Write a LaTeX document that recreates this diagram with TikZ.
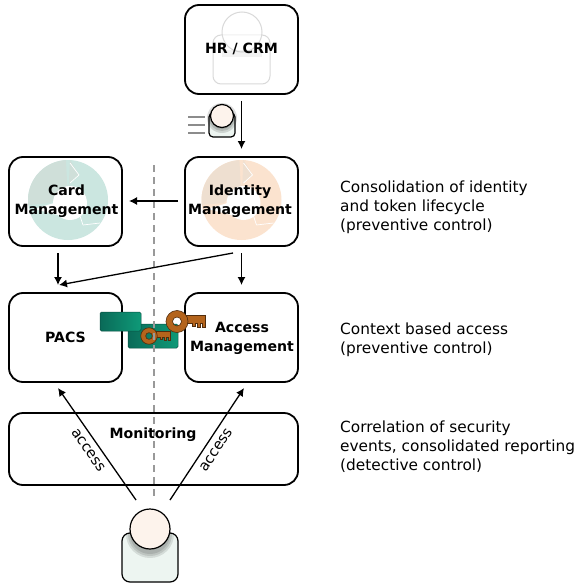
\documentclass[tikz,border=0pt]{standalone}
\usepackage{fontspec}
\setmainfont{DejaVu Sans}
\usetikzlibrary{arrows.meta}
\definecolor{greenl}{HTML}{0E9A78}
\definecolor{greend}{HTML}{0A6A58}
\definecolor{orangekey}{HTML}{B4641C}
\definecolor{headfill}{HTML}{FDF3EC}
\definecolor{bodyfill}{HTML}{EDF5F1}
\definecolor{cyclegreen}{HTML}{CBE6E0}
\definecolor{cyclegreend}{HTML}{CFDFD9}
\definecolor{cycleorange}{HTML}{FBE3CF}
\definecolor{cycleoranged}{HTML}{EEDFD0}
\tikzset{
 x=1pt,y=-1pt,
 boxnode/.style={draw=black,line width=1.8pt,rounded corners=14pt,inner sep=0pt},
 lbl/.style={font=\bfseries\fontsize{14.1}{19}\selectfont,align=center,text=black,inner sep=0pt},
 note/.style={font=\fontsize{15.35}{19}\selectfont,align=left,anchor=north west,inner sep=0pt,text=black},
 arr/.style={line width=1.3pt,-{Latex[length=8pt,width=8pt]}},
 arrlabel/.style={sloped,pos=.5,below=5pt,font=\fontsize{14.5}{16}\selectfont,inner sep=1pt},
 ghost/.style={draw=black!15,line width=1pt,fill=white,fill opacity=.6},
 person/.style={draw=black,line width=1.2pt},
 keyshape/.style={fill=orangekey,draw=black!55!orangekey,line width=.6pt},
 greenrect/.style={left color=greend,right color=greenl,draw=black!25!greend,line width=.5pt,rounded corners=1.5pt},
}
\newcommand{\cyc}[4]{%
  \begin{scope}[shift={(#1,#2)}]
    \fill[#3] (0,0) circle (40);
    \fill[#4] (0,0) -- (2,-40) -- (11,-25) -- (2,-17) -- (-18,3) -- (-39.7,5) arc (173:267:40) -- cycle;
    \fill[white] (2,3) circle (17);
    \fill[white] (-34,9) -- (-14,3) -- (-10,15) -- cycle;
    \draw[white,line width=.7pt] (2,-37) -- (11,-25) -- (2,-17);
    \draw[white,line width=.7pt] (15,25) -- (32,23);
    \draw[white,line width=.7pt] (15,25) -- (10,10);
  \end{scope}}
\newcommand{\keyat}[3]{%
  \begin{scope}[shift={(#1,#2)},scale=#3]
    \path[keyshape] (9,-6) -- (28,-6) -- (28,5.5) -- (25.5,5.5) -- (25.5,1.5) -- (23,1.5) -- (23,5.5) -- (20.5,5.5) -- (20.5,1.5) -- (18,1.5) -- (18,5) -- (15.5,5) -- (15.5,1.5) -- (9,1.5) -- cycle;
    \path[keyshape,even odd rule] (0,0) circle (11) (0,0) circle (4.5);
  \end{scope}}
\begin{document}
\begin{tikzpicture}
\useasboundingbox (0,0) rectangle (577,583);
\fill[white] (0,0) rectangle (577,583);
% ghost person in HR
\draw[ghost,rounded corners=8pt] (213,60) -- (213,84) -- (270,84) -- (270,35) -- (213,35) -- cycle;
\draw[ghost] (242,32) circle (20);
\fill[black,opacity=.05] (222,50) rectangle (262,57);
% cycles
\cyc{68}{200}{cyclegreen}{cyclegreend}
\cyc{241.5}{200}{cycleorange}{cycleoranged}
% dashed divider
\coordinate (dtop) at (154,165);
\coordinate (dbot) at (154,500);
% boxes
\node[boxnode,minimum width=113pt,minimum height=89pt] (hr) at (241.5,49.5) {};
\node[boxnode,minimum width=113pt,minimum height=89pt] (card) at (65.5,201.5) {};
\node[boxnode,minimum width=113pt,minimum height=89pt] (idm) at (241.5,201.5) {};
\node[boxnode,minimum width=113pt,minimum height=89pt] (pacs) at (65.5,337.5) {};
\node[boxnode,minimum width=113pt,minimum height=89pt] (acm) at (241.5,337.5) {};
\node[boxnode,minimum width=289pt,minimum height=72pt] (mon) at (153.5,449) {};
% green tokens and keys
\draw[greenrect] (128,324) rectangle (178,348);
\draw[greenrect] (100,312) rectangle (141,331);
\keyat{149}{336}{.75}
\keyat{177}{321.5}{1}
\draw[black!40,line width=1.3pt,dash pattern=on 7pt off 5pt] (dtop) -- (dbot);
% labels
\node[lbl] (hrt) at (241.5,48.5) {HR / CRM};
\node[lbl] (cardt) at (66.5,201) {Card\\Management};
\node[lbl] (idmt) at (240,201) {Identity\\Management};
\node[lbl] (pacst) at (65.5,337) {PACS};
\node[lbl] (acmt) at (242,338) {Access\\Management};
\node[lbl] (mont) at (153,435) {Monitoring};
\node[note] (n1) at (340,181) {Consolidation of identity\\and token lifecycle\\(preventive control)};
\node[note] (n2) at (340,323) {Context based access\\(preventive control)};
\node[note] (n3) at (340,421) {Correlation of security\\events, consolidated reporting\\(detective control)};
% small person
\foreach \yy in {117,125,133}{\draw[black!45,line width=1.5pt] (188,\yy) -- (205,\yy);}
\draw[person,fill=bodyfill,rounded corners=4pt] (209,113) rectangle (235,137);
\foreach \rr in {11,13,15}{\fill[black,opacity=.13] (222,118) circle [radius=\rr];}
\draw[person,fill=headfill] (222,116) circle (11.5);
% large person
\coordinate (ul) at (136,500);
\coordinate (ur) at (170,500);
\draw[person,fill=bodyfill,rounded corners=8pt] (122,533) rectangle (178,582);
\begin{scope}
\clip[rounded corners=8pt] (122,533) rectangle (178,582);
\foreach \rr in {20,22,24}{\fill[black,opacity=.1] (150,534) circle [radius=\rr];}
\end{scope}
\draw[person,fill=headfill] (150,529) circle (20);
% connectors
\coordinate (a1) at (241.5,101);
\coordinate (a2) at (241.5,149);
\draw[arr] (a1) -- (a2);
\coordinate (b1) at (178,201);
\coordinate (b2) at (129,201);
\draw[arr] (b1) -- (b2);
\coordinate (c1) at (58,253);
\coordinate (c2) at (58,285);
\draw[arr] (c1) -- (c2);
\coordinate (d1) at (233,253);
\coordinate (d2) at (59,285);
\draw[arr] (d1) -- (d2);
\coordinate (e1) at (241.5,253);
\coordinate (e2) at (241.5,285);
\draw[arr] (e1) -- (e2);
\draw[arr] (ul) -- node[arrlabel] {access} (58,388);
\draw[arr] (ur) -- node[arrlabel] {access} (244,388);
\end{tikzpicture}
\end{document}
